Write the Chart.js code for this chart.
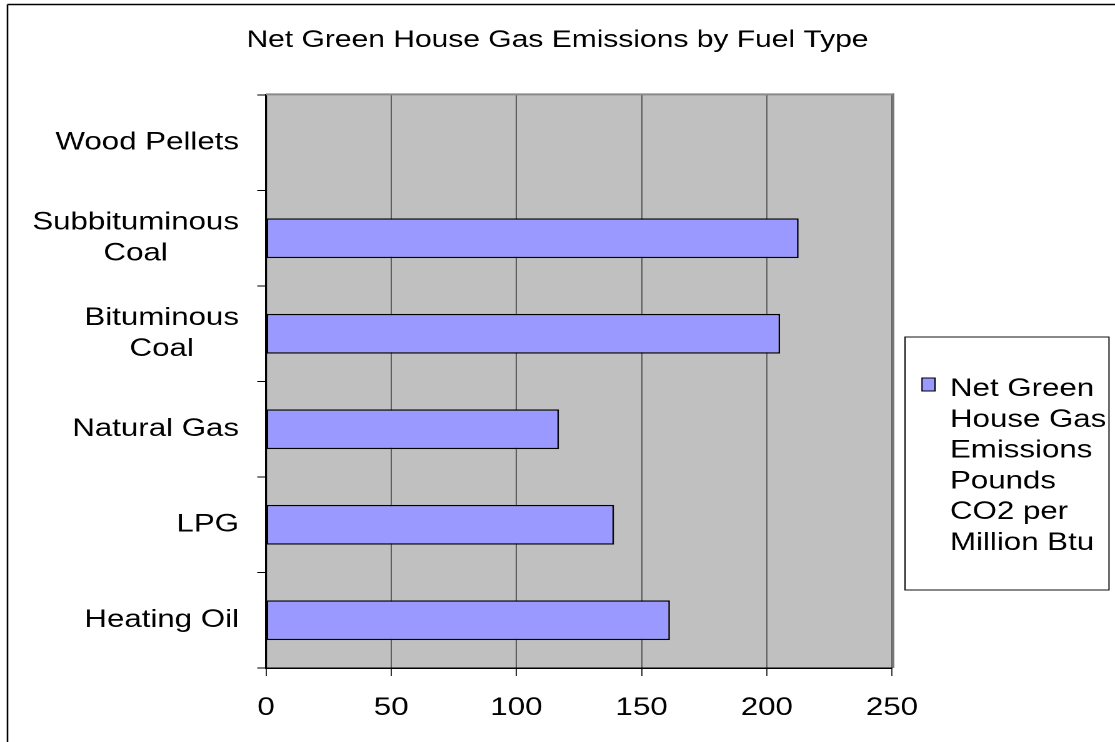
<!DOCTYPE html>
<html>
<head>
<meta charset="utf-8">
<title>Net Green House Gas Emissions by Fuel Type</title>
<script src="https://cdn.jsdelivr.net/npm/chart.js@4/dist/chart.umd.min.js"></script>
<style>
  html, body { margin: 0; padding: 0; background: #fff; overflow: hidden; }
  /* the sheet is drawn on a narrower canvas and widened to the page */
  #stage { width: 892px; height: 742px; transform: scaleX(1.25); transform-origin: 0 0; }
</style>
</head>
<body>
<div id="stage"><canvas id="chart" width="892" height="742"></canvas></div>
<script>
// Fuel types, listed top to bottom
const categories = ['Wood Pellets', ['Subbituminous', 'Coal'], ['Bituminous', 'Coal'], 'Natural Gas', 'LPG', 'Heating Oil'];
// Pounds of CO2 per million Btu
const emissions = [0, 212.7, 205.3, 117.0, 139.0, 161.3];
const xTicks = [0, 50, 100, 150, 200, 250];
const seriesNameLines = ['Net Green', 'House Gas', 'Emissions', 'Pounds', 'CO2 per', 'Million Btu'];
const chartTitle = 'Net Green House Gas Emissions by Fuel Type';

const FONT = '"Liberation Sans", Arial, Helvetica, sans-serif';
const BAR_FILL = '#9999ff';

// White sheet, outer frame and the grey plot area
const framePlugin = {
  id: 'frame',
  beforeDraw(chart) {
    const { ctx, chartArea: a } = chart;
    ctx.save();
    ctx.fillStyle = '#ffffff';
    ctx.fillRect(0, 0, chart.width, chart.height);
    ctx.fillStyle = '#c0c0c0';
    ctx.fillRect(a.left, a.top, a.right - a.left, a.bottom - a.top);
    ctx.strokeStyle = '#000';
    ctx.lineWidth = 1.5;
    ctx.beginPath();
    ctx.moveTo(6, 4.5);
    ctx.lineTo(chart.width, 4.5);
    ctx.stroke();
    ctx.lineWidth = 1.3;
    ctx.beginPath();
    ctx.moveTo(6, 4.5);
    ctx.lineTo(6, chart.height);
    ctx.stroke();
    ctx.restore();
  },
  afterDatasetsDraw(chart) {
    const { ctx, chartArea: a } = chart;
    ctx.save();
    ctx.strokeStyle = '#8a8a8a';
    ctx.lineWidth = 2;
    ctx.beginPath();
    ctx.moveTo(a.left, a.top - 0.6);
    ctx.lineTo(a.right + 1.6, a.top - 0.6);
    ctx.stroke();
    ctx.strokeStyle = '#7a7a7a';
    ctx.lineWidth = 1.8;
    ctx.beginPath();
    ctx.moveTo(a.right + 1, a.top - 1.6);
    ctx.lineTo(a.right + 1, a.bottom);
    ctx.stroke();
    ctx.restore();
  }
};

// Category labels: each block right-aligned to the axis, its lines centred on each other
const categoryLabelsPlugin = {
  id: 'categoryLabels',
  afterDraw(chart) {
    const { ctx } = chart;
    const scale = chart.scales.y;
    const right = chart.chartArea.left - 21.6;
    const lineGap = 31;
    ctx.save();
    ctx.font = '25px ' + FONT;
    ctx.fillStyle = '#000';
    ctx.textAlign = 'center';
    ctx.textBaseline = 'middle';
    chart.data.labels.forEach((label, i) => {
      const lines = Array.isArray(label) ? label : [label];
      const widest = Math.max(...lines.map(t => ctx.measureText(t).width));
      const cx = right - widest / 2;
      const cy = scale.getPixelForValue(i);
      lines.forEach((t, j) => {
        ctx.fillText(t, cx, cy + (j - (lines.length - 1) / 2) * lineGap);
      });
    });
    ctx.restore();
  }
};

// Boxed legend at the right of the plot
const legendBoxPlugin = {
  id: 'legendBox',
  afterDraw(chart) {
    const { ctx, chartArea: a } = chart;
    const left = a.right + 10.4;
    const right = chart.width - 4.8;
    const top = 337;
    const bottom = 590;
    ctx.save();
    ctx.strokeStyle = '#111';
    ctx.lineWidth = 1;
    ctx.strokeRect(left, top, right - left, bottom - top);
    const ds = chart.data.datasets[0];
    ctx.fillStyle = ds.backgroundColor;
    ctx.fillRect(left + 13.6, 378, 10.4, 13);
    ctx.strokeStyle = '#000';
    ctx.lineWidth = 1;
    ctx.strokeRect(left + 13.6, 378, 10.4, 13);
    ctx.fillStyle = '#000';
    ctx.font = '25px ' + FONT;
    ctx.textAlign = 'left';
    ctx.textBaseline = 'alphabetic';
    seriesNameLines.forEach((t, k) => {
      ctx.fillText(t, left + 36, 396 + k * 30.8);
    });
    ctx.restore();
  }
};

new Chart(document.getElementById('chart'), {
  type: 'bar',
  data: {
    labels: categories,
    datasets: [{
      label: seriesNameLines.join(' '),
      data: emissions,
      backgroundColor: BAR_FILL,
      borderColor: '#000',
      borderWidth: 1.3,
      borderSkipped: false,
      barPercentage: 0.415,
      categoryPercentage: 1
    }]
  },
  options: {
    indexAxis: 'y',
    responsive: false,
    animation: false,
    devicePixelRatio: 2,
    layout: { padding: { left: 178.4, right: 178.4, top: 0, bottom: 2 } },
    plugins: {
      legend: { display: false },
      tooltip: { enabled: false },
      title: {
        display: true,
        text: chartTitle,
        color: '#000',
        font: { family: FONT, size: 24, weight: 'normal', lineHeight: 1.2 },
        padding: { top: 26.1, bottom: 40.1 }
      }
    },
    scales: {
      x: {
        type: 'linear',
        min: 0,
        max: 250,
        afterBuildTicks: scale => { scale.ticks = xTicks.map(v => ({ value: v })); },
        grid: { color: '#5e5e5e', lineWidth: 1, drawTicks: true, tickLength: 8, tickColor: '#333333', tickWidth: 1 },
        border: { display: true, color: '#000', width: 1.5 },
        ticks: {
          color: '#000',
          font: { family: FONT, size: 25, lineHeight: 1.2 },
          padding: 17,
          maxRotation: 0,
          autoSkip: false
        }
      },
      y: {
        type: 'category',
        offset: true,
        grid: { display: true, drawOnChartArea: false, drawTicks: true, tickLength: 7, tickColor: '#000', offset: true },
        border: { display: true, color: '#000', width: 1.6 },
        ticks: { display: false },
        afterFit: scale => { scale.width = 34.4; }
      }
    }
  },
  plugins: [framePlugin, categoryLabelsPlugin, legendBoxPlugin]
});
</script>
</body>
</html>
